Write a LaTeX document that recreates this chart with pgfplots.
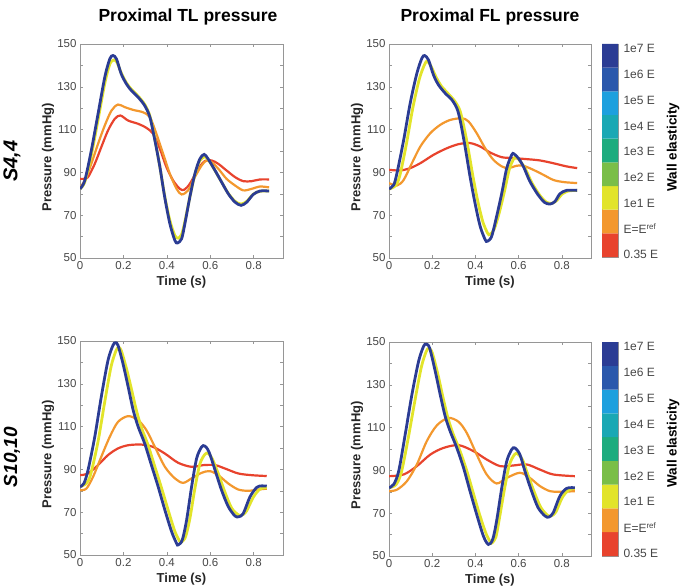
\documentclass[border=0pt]{standalone}
\usepackage{fontspec}
\setmainfont{Liberation Sans}
\usepackage{pgfplots}
\pgfplotsset{compat=1.18}

% line / colorbar colours (elasticity scale)
\definecolor{cRed}{RGB}{232,67,45}
\definecolor{cOrange}{RGB}{243,152,46}
\definecolor{cYellow}{RGB}{226,228,42}
\definecolor{cLgreen}{RGB}{122,190,72}
\definecolor{cGreen}{RGB}{30,172,126}
\definecolor{cTeal}{RGB}{26,168,180}
\definecolor{cLblue}{RGB}{30,160,222}
\definecolor{cBlue}{RGB}{42,88,172}
\definecolor{cNavy}{RGB}{43,60,148}
\definecolor{frame}{RGB}{150,150,150}
\definecolor{ticktext}{RGB}{70,70,70}

\pgfplotsset{
  panel/.style={
    scale only axis, width=203pt, height=214pt,
    xmin=0, xmax=0.935, ymin=50, ymax=150,
    xtick={0,0.2,0.4,0.6,0.8}, xticklabels={0,0.2,0.4,0.6,0.8},
    ytick={50,70,90,110,130,150}, minor ytick={60,80,100,120,140},
    tick align=inside, major tick length=3pt, minor tick length=3pt,
    axis line style={frame, line width=0.6pt}, every tick/.style={frame, line width=0.5pt},
    tick label style={font=\fontsize{11.5}{12}\selectfont, text=ticktext},
    /pgf/number format/assume math mode=true,
    xlabel={Time (s)}, ylabel={Pressure (mmHg)},
    label style={font=\bfseries\fontsize{13}{14}\selectfont, text=black!85},
    xlabel style={at={(axis description cs:0.5,0)}, anchor=center, yshift=-24pt},
    ylabel style={at={(axis description cs:-0.158,0.47)}, anchor=center},
    every axis plot/.append style={smooth, tension=0.5},
  },
  redline/.style={cRed, line width=2.2pt},
  orangeline/.style={cOrange, line width=2.2pt},
  yellowline/.style={cYellow, line width=2.8pt},
  blueline/.style={cNavy, line width=2.8pt},
  cbar/.style={
    scale only axis, width=16pt,
    xmin=0, xmax=1, ymin=0, ymax=9,
    xtick=\empty, yticklabel pos=right,
    ytick={0.1,1.1875,2.275,3.3625,4.45,5.5375,6.625,7.7125,8.8},
    yticklabels={0.35 E, E=E\textsuperscript{ref}, 1e1 E, 1e2 E, 1e3 E, 1e4 E, 1e5 E, 1e6 E, 1e7 E},
    major tick length=0pt,
    axis line style={frame, line width=0.6pt},
    tick label style={font=\fontsize{12}{13}\selectfont, text=ticktext},
    yticklabel style={xshift=2pt},
  },
}

\newcommand{\colorsegments}{%
  \addplot[fill=cRed, draw=none] coordinates {(0,0) (1,0) (1,1) (0,1) (0,0)};
  \addplot[fill=cOrange, draw=none] coordinates {(0,1) (1,1) (1,2) (0,2) (0,1)};
  \addplot[fill=cYellow, draw=none] coordinates {(0,2) (1,2) (1,3) (0,3) (0,2)};
  \addplot[fill=cLgreen, draw=none] coordinates {(0,3) (1,3) (1,4) (0,4) (0,3)};
  \addplot[fill=cGreen, draw=none] coordinates {(0,4) (1,4) (1,5) (0,5) (0,4)};
  \addplot[fill=cTeal, draw=none] coordinates {(0,5) (1,5) (1,6) (0,6) (0,5)};
  \addplot[fill=cLblue, draw=none] coordinates {(0,6) (1,6) (1,7) (0,7) (0,6)};
  \addplot[fill=cBlue, draw=none] coordinates {(0,7) (1,7) (1,8) (0,8) (0,7)};
  \addplot[fill=cNavy, draw=none] coordinates {(0,8) (1,8) (1,9) (0,9) (0,8)};
}

\begin{document}
\begin{tikzpicture}[x=1pt, y=1pt]
\useasboundingbox (0,0) rectangle (687,587);

% column titles and row labels
\node[font=\bfseries\fontsize{17.5}{19}\selectfont] at (188,570) {Proximal TL pressure};
\node[font=\bfseries\fontsize{17.5}{19}\selectfont] at (490,570) {Proximal FL pressure};
\node[rotate=90, font=\bfseries\itshape\fontsize{20}{22}\selectfont] at (12,426) {S4,4};
\node[rotate=90, font=\bfseries\itshape\fontsize{19}{21}\selectfont] at (12,130) {S10,10};

% ---------- S4,4 : true lumen ----------
\begin{axis}[panel, at={(80pt,329pt)}, anchor=south west]
\addplot[redline] coordinates {
(0,87) (0.02,87) (0.037,87.8) (0.068,94) (0.098,101.8) (0.129,109.6) (0.16,115) (0.186,116.6)
(0.222,114.2) (0.268,112.7) (0.306,110.8) (0.337,108) (0.368,101) (0.398,92.5) (0.429,86.2)
(0.46,82.3) (0.48,81.9) (0.506,84.7) (0.545,91.7) (0.575,95.3) (0.606,95.6) (0.637,94)
(0.675,90.9) (0.714,87.8) (0.752,85.9) (0.79,85.9) (0.829,86.7) (0.871,86.7)};
\addplot[orangeline] coordinates {
(0,83) (0.022,86.2) (0.052,94) (0.083,103.3) (0.114,111.9) (0.145,118.9) (0.175,121.7)
(0.206,120.5) (0.245,119.2) (0.29,118.1) (0.322,115.8) (0.352,108) (0.383,98.7) (0.414,89.3)
(0.445,82.3) (0.468,79.7) (0.498,81.6) (0.529,87.8) (0.56,93.2) (0.583,95.6) (0.606,94.8)
(0.637,91.7) (0.675,87) (0.714,83.9) (0.752,81.6) (0.79,82.3) (0.829,83.4) (0.871,83)};
\addplot[yellowline] coordinates {
(0,82.3) (0.022,85.5) (0.052,98) (0.083,114.5) (0.114,131.5) (0.137,140.5) (0.155,142.5)
(0.17,141.5) (0.19,136.5) (0.214,131.8) (0.237,128.8) (0.268,125.6) (0.298,121.8) (0.322,116.3)
(0.345,105.5) (0.368,92.5) (0.39,79) (0.414,67.5) (0.437,60.5) (0.452,59.3) (0.468,61)
(0.483,67) (0.506,78.5) (0.529,89) (0.552,95.5) (0.575,97.3) (0.592,95.8) (0.622,90.8)
(0.652,85.5) (0.683,80.2) (0.714,76.5) (0.742,75.2) (0.768,76.5) (0.798,79.8) (0.829,81.2) (0.871,81.3)};
\addplot[blueline] coordinates {
(0,82.3) (0.022,86.2) (0.052,100.2) (0.083,117.3) (0.114,134.4) (0.137,143) (0.152,144.6)
(0.168,143) (0.19,136) (0.214,131.3) (0.237,128.2) (0.268,125.1) (0.298,121.2) (0.322,115.8)
(0.345,104.9) (0.368,92.5) (0.39,78.5) (0.414,66) (0.437,58.2) (0.449,57) (0.468,59)
(0.483,66) (0.506,78.5) (0.529,89.3) (0.552,96.3) (0.572,98.4) (0.59,96.3) (0.622,90.9)
(0.652,85.5) (0.683,80) (0.714,76.1) (0.742,74.6) (0.768,76.1) (0.798,79.7) (0.829,81.3) (0.871,81.3)};
\end{axis}

% ---------- S4,4 : false lumen ----------
\begin{axis}[panel, width=202pt, at={(389pt,329pt)}, anchor=south west]
\addplot[redline] coordinates {
(0,91.2) (0.052,90.9) (0.098,92) (0.145,94.3) (0.206,98.2) (0.268,101.3) (0.322,103.2)
(0.375,103.7) (0.422,102.1) (0.468,99.3) (0.522,97.1) (0.575,96.7) (0.637,96.2) (0.698,95.6)
(0.76,94.3) (0.822,92.8) (0.871,92)};
\addplot[orangeline] coordinates {
(0,85) (0.037,83.9) (0.068,86.5) (0.106,94.3) (0.145,102.1) (0.191,108.3) (0.237,112.2)
(0.283,114.5) (0.337,115.3) (0.368,113.8) (0.406,108.3) (0.445,101.3) (0.483,95.9)
(0.522,92.8) (0.552,92) (0.591,93.1) (0.622,93.1) (0.668,91.2) (0.714,88.9) (0.76,86.5)
(0.806,85.5) (0.871,85)};
\addplot[yellowline] coordinates {
(0,82.2) (0.03,83.8) (0.05,88.5) (0.08,103) (0.11,120) (0.14,133.5) (0.165,140.5) (0.178,142)
(0.195,139.5) (0.218,134.5) (0.241,130.5) (0.272,127) (0.303,123.5) (0.326,119.5) (0.341,114)
(0.364,102.5) (0.387,89) (0.41,77) (0.434,67) (0.457,61.5) (0.467,61) (0.487,63.5) (0.51,71)
(0.534,81) (0.557,91.5) (0.578,96.5) (0.59,97) (0.607,95.3) (0.632,91.5) (0.662,85) (0.7,79)
(0.73,76) (0.755,75.6) (0.778,77) (0.8,79.8) (0.83,81.3) (0.871,81.6)};
\addplot[blueline] coordinates {
(0,82.2) (0.022,84.2) (0.037,89.7) (0.068,105.2) (0.098,122.3) (0.129,136.3) (0.152,143.3)
(0.165,144.6) (0.183,142.5) (0.206,135.5) (0.229,130.9) (0.26,127) (0.291,123.9) (0.314,120)
(0.329,114.5) (0.352,102.1) (0.375,88.1) (0.398,75.7) (0.422,64.8) (0.445,58.6) (0.455,57.8)
(0.475,60.1) (0.498,69.4) (0.522,80.3) (0.545,92) (0.568,98.2) (0.578,98.7) (0.598,96.7)
(0.622,92.8) (0.652,85.8) (0.69,79.5) (0.72,76) (0.745,75.2) (0.768,76.4) (0.791,80)
(0.822,81.6) (0.871,81.6)};
\end{axis}

% ---------- S10,10 : true lumen ----------
\begin{axis}[panel, at={(80pt,32pt)}, anchor=south west]
\addplot[redline] coordinates {
(0,87.3) (0.037,88.1) (0.083,92) (0.129,96.7) (0.175,99.8) (0.222,101.3) (0.283,101.6)
(0.337,100.5) (0.391,97.4) (0.452,93.1) (0.514,91.2) (0.568,92) (0.622,92) (0.668,90.4)
(0.729,88.1) (0.791,87.3) (0.86,86.9)};
\addplot[orangeline] coordinates {
(0,80.3) (0.029,81) (0.06,86.5) (0.098,95.9) (0.137,105.2) (0.175,112.2) (0.222,114.9)
(0.268,113) (0.306,108.3) (0.345,100.5) (0.391,91.2) (0.437,85.8) (0.475,83.7) (0.514,85.8)
(0.56,88.4) (0.598,89.2) (0.637,87.3) (0.683,83.4) (0.729,80.6) (0.775,80) (0.822,80.6) (0.86,81)};
\addplot[yellowline] coordinates {
(0,81.9) (0.03,83.5) (0.05,88) (0.083,103) (0.113,121) (0.143,138) (0.166,145.5) (0.178,147)
(0.19,145.5) (0.213,137.5) (0.237,127.5) (0.26,117.5) (0.283,109.5) (0.313,101.5) (0.344,91.5)
(0.375,81.5) (0.406,71) (0.437,61) (0.46,56.3) (0.467,56) (0.486,58.5) (0.506,67) (0.529,81)
(0.552,92.5) (0.575,97) (0.59,97.5) (0.609,95) (0.637,88) (0.667,79.5) (0.698,72) (0.729,68.8)
(0.747,68.7) (0.767,70.5) (0.798,77) (0.829,80.8) (0.86,81.6)};
\addplot[blueline] coordinates {
(0,81.9) (0.018,83.4) (0.037,89.7) (0.068,105.2) (0.098,123.9) (0.129,141) (0.152,148)
(0.163,149.2) (0.175,148) (0.198,139.4) (0.222,128.5) (0.245,117.7) (0.268,109.9) (0.298,102.1)
(0.329,92) (0.36,81.9) (0.391,71) (0.422,60.9) (0.445,55.4) (0.452,54.7) (0.471,57) (0.491,66.3)
(0.514,81.9) (0.537,95.1) (0.56,100.5) (0.575,100.9) (0.594,98.2) (0.622,89.7) (0.652,80.3)
(0.683,72.6) (0.714,68.2) (0.732,67.9) (0.752,69.4) (0.783,77.2) (0.814,81.6) (0.837,82.3) (0.86,82.2)};
\end{axis}

% ---------- S10,10 : false lumen ----------
\begin{axis}[panel, width=202pt, at={(389pt,31pt)}, anchor=south west]
\addplot[redline] coordinates {
(0,87.3) (0.068,88.1) (0.129,92) (0.191,97.4) (0.252,100.5) (0.322,101.8) (0.391,99)
(0.452,95.1) (0.514,92) (0.575,92.3) (0.637,92.8) (0.698,90.4) (0.76,88.1) (0.86,87.3)};
\addplot[orangeline] coordinates {
(0,80.3) (0.037,81) (0.083,85) (0.129,92.8) (0.175,103.7) (0.222,111.1) (0.275,114.5)
(0.322,112.7) (0.36,107.5) (0.406,97.4) (0.452,88.1) (0.498,83.9) (0.545,86.5) (0.606,88.9)
(0.652,86.5) (0.698,82.7) (0.745,80.3) (0.791,80) (0.86,80.3)};
\addplot[yellowline] coordinates {
(0,81.9) (0.032,83.3) (0.057,89) (0.087,104) (0.118,121.5) (0.149,138) (0.172,145.5)
(0.184,147) (0.2,145) (0.226,135) (0.249,124.5) (0.272,114.8) (0.295,107.5) (0.326,99.8)
(0.357,90.8) (0.387,80.5) (0.418,69.8) (0.449,60.5) (0.47,56.5) (0.478,56.2) (0.495,59)
(0.51,67) (0.534,81) (0.557,92.5) (0.58,97.3) (0.595,97.8) (0.618,95) (0.641,88.5)
(0.672,80) (0.702,72.8) (0.734,69) (0.752,68.8) (0.772,70.5) (0.803,77.5) (0.834,81) (0.86,81.6)};
\addplot[blueline] coordinates {
(0,81.9) (0.022,83.5) (0.045,89.7) (0.075,106.8) (0.106,125.4) (0.137,141) (0.16,148)
(0.172,149) (0.188,147.2) (0.214,136.3) (0.237,125.4) (0.26,115.3) (0.283,108.3) (0.314,100.5)
(0.345,91.2) (0.375,80.3) (0.406,69.4) (0.437,59.3) (0.46,55.4) (0.48,57.8) (0.498,66.3)
(0.522,81.9) (0.545,94.3) (0.568,99.8) (0.583,100.5) (0.606,97.4) (0.629,89.7) (0.66,80.3)
(0.69,72.6) (0.722,68.7) (0.74,68.2) (0.76,70.2) (0.791,78) (0.822,81.6) (0.86,81.9)};
\end{axis}

% ---------- colour bars ----------
\begin{axis}[cbar, height=213pt, at={(602pt,330pt)}, anchor=south west]
\colorsegments
\end{axis}
\begin{axis}[cbar, height=214pt, at={(602pt,31pt)}, anchor=south west]
\colorsegments
\end{axis}
\node[rotate=90, font=\bfseries\fontsize{13.5}{15}\selectfont] at (673,440) {Wall elasticity};
\node[rotate=90, font=\bfseries\fontsize{13.5}{15}\selectfont] at (673,144) {Wall elasticity};
\end{tikzpicture}
\end{document}
